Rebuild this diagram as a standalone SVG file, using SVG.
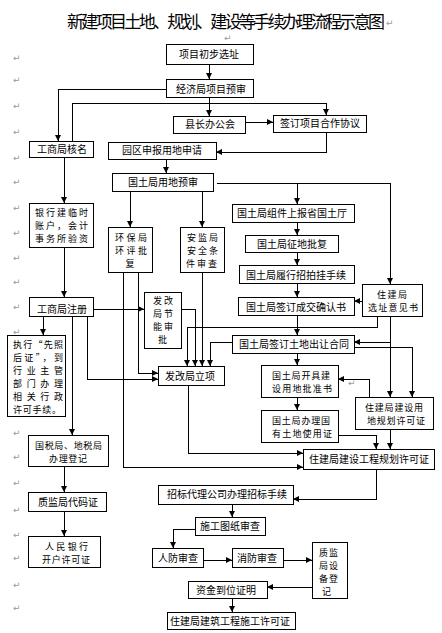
<svg xmlns="http://www.w3.org/2000/svg" width="442" height="633" viewBox="0 0 442 633">
<style>
.box{fill:#fff;stroke:#000;stroke-width:1;shape-rendering:crispEdges}
.c{fill:none;stroke:#000;stroke-width:1;shape-rendering:crispEdges}
.t{font-family:"Noto Sans CJK SC","Noto Sans",sans-serif;font-size:10px;fill:#000;text-anchor:middle}
.m{font-family:"Noto Sans CJK SC","Noto Sans",sans-serif;font-size:9px;fill:#000}
.title{font-family:"Noto Sans CJK SC","Noto Sans",sans-serif;font-size:17px;fill:#000}
.pm{font-family:"DejaVu Sans",sans-serif;font-size:9px;fill:#9a9a9a}
</style>
<defs>
<marker id="ah" markerUnits="userSpaceOnUse" markerWidth="7" markerHeight="6" refX="6" refY="3" orient="auto">
<path d="M0,0 L6,3 L0,6 z" fill="#000"/>
</marker>
</defs>
<rect width="442" height="633" fill="#fff"/>
<g id="title">
<text class="title" x="67" y="28" textLength="318" lengthAdjust="spacing">新建项目土地、规划、建设等手续办理流程示意图</text>
</g>
<g id="marks">
<text class="pm" x="386" y="26">↵</text>
<text class="pm" x="224" y="41">↵</text>
<text class="pm" x="348" y="386">↵</text>
<text class="pm" x="13" y="61">↵</text>
<text class="pm" x="13" y="83">↵</text>
<text class="pm" x="13" y="109">↵</text>
<text class="pm" x="13" y="135">↵</text>
<text class="pm" x="13" y="161">↵</text>
<text class="pm" x="13" y="185">↵</text>
<text class="pm" x="13" y="211">↵</text>
<text class="pm" x="13" y="236">↵</text>
<text class="pm" x="13" y="261">↵</text>
<text class="pm" x="13" y="285">↵</text>
<text class="pm" x="13" y="310">↵</text>
<text class="pm" x="13" y="334.5">↵</text>
<text class="pm" x="13" y="436">↵</text>
<text class="pm" x="13" y="460">↵</text>
<text class="pm" x="13" y="486">↵</text>
<text class="pm" x="13" y="513">↵</text>
<text class="pm" x="13" y="538">↵</text>
<text class="pm" x="13" y="561">↵</text>
<text class="pm" x="13" y="588">↵</text>
<text class="pm" x="13" y="611">↵</text>
</g>
<g id="connectors">
<path class="c" d="M209,64 V79" marker-end="url(#ah)"/>
<path class="c" d="M166,89 H58 V141" marker-end="url(#ah)"/>
<path class="c" d="M209,97 V116" marker-end="url(#ah)"/>
<path class="c" d="M72,141 V103 H326 V115" marker-end="url(#ah)"/>
<path class="c" d="M245,122 H273" marker-end="url(#ah)"/>
<path class="c" d="M326,132 V152 H216" marker-end="url(#ah)"/>
<path class="c" d="M166,159 V173" marker-end="url(#ah)"/>
<path class="c" d="M217,183 H390 V284" marker-end="url(#ah)"/>
<path class="c" d="M297,183 V204" marker-end="url(#ah)"/>
<path class="c" d="M130,191 V227" marker-end="url(#ah)"/>
<path class="c" d="M202,191 V227" marker-end="url(#ah)"/>
<path class="c" d="M64,157 V203" marker-end="url(#ah)"/>
<path class="c" d="M64,247 V297" marker-end="url(#ah)"/>
<path class="c" d="M297,222 V235" marker-end="url(#ah)"/>
<path class="c" d="M297,252 V265" marker-end="url(#ah)"/>
<path class="c" d="M297,283 V297" marker-end="url(#ah)"/>
<path class="c" d="M297,315 V335" marker-end="url(#ah)"/>
<path class="c" d="M362,301 H354" marker-end="url(#ah)"/>
<path class="c" d="M377,316 V327 H187 V366" marker-end="url(#ah)"/>
<path class="c" d="M390,316 V397" marker-end="url(#ah)"/>
<path class="c" d="M390,342 H354" marker-end="url(#ah)"/>
<path class="c" d="M354,347 H412 V397" marker-end="url(#ah)"/>
<path class="c" d="M232,342 H210 V366" marker-end="url(#ah)"/>
<path class="c" d="M297,353 V365" marker-end="url(#ah)"/>
<path class="c" d="M369,397 V379 H338" marker-end="url(#ah)"/>
<path class="c" d="M297,397 V410" marker-end="url(#ah)"/>
<path class="c" d="M338,435 H376 V449" marker-end="url(#ah)"/>
<path class="c" d="M390,429 V449" marker-end="url(#ah)"/>
<path class="c" d="M93,309 H144" marker-end="url(#ah)"/>
<path class="c" d="M181,309 H195 V366" marker-end="url(#ah)"/>
<path class="c" d="M202,272 V366" marker-end="url(#ah)"/>
<path class="c" d="M138,272 V373 H158" marker-end="url(#ah)"/>
<path class="c" d="M123,272 V467 H303" marker-end="url(#ah)"/>
<path class="c" d="M87,316 V379 H158" marker-end="url(#ah)"/>
<path class="c" d="M43,316 V335" marker-end="url(#ah)"/>
<path class="c" d="M72,316 V435" marker-end="url(#ah)"/>
<path class="c" d="M188,385 V453 H303" marker-end="url(#ah)"/>
<path class="c" d="M64,466 V492" marker-end="url(#ah)"/>
<path class="c" d="M64,511 V536" marker-end="url(#ah)"/>
<path class="c" d="M376,469 V499 H293" marker-end="url(#ah)"/>
<path class="c" d="M232,504 V517" marker-end="url(#ah)"/>
<path class="c" d="M195,529 H173 V548" marker-end="url(#ah)"/>
<path class="c" d="M203,560 H232" marker-end="url(#ah)"/>
<path class="c" d="M283,560 H312" marker-end="url(#ah)"/>
<path class="c" d="M312,587 H267" marker-end="url(#ah)"/>
<path class="c" d="M232,598 V612" marker-end="url(#ah)"/>
</g>
<g id="n_xuanzhi"><rect class="box" x="166" y="44" width="87" height="20"/><text class="t" x="209" y="57.5">项目初步选址</text></g>
<g id="n_jingji"><rect class="box" x="166" y="79" width="87" height="18"/><text class="t" x="211" y="92.5">经济局项目预审</text></g>
<g id="n_xianzhang"><rect class="box" x="173" y="116" width="72" height="17"/><text class="t" x="210" y="127.5">县长办公会</text></g>
<g id="n_xieyi"><rect class="box" x="273" y="115" width="93" height="17"/><text class="t" x="320" y="126.5">签订项目合作协议</text></g>
<g id="n_heming"><rect class="box" x="29" y="141" width="64" height="16"/><text class="t" x="62" y="153">工商局核名</text></g>
<g id="n_yuanqu"><rect class="box" x="108" y="142" width="108" height="17"/><text class="t" x="162" y="154">园区申报用地申请</text></g>
<g id="n_yushen"><rect class="box" x="112" y="173" width="101" height="18"/><text class="t" x="163" y="186">国土局用地预审</text></g>
<g id="n_zujian"><rect class="box" x="232" y="204" width="122" height="18"/><text class="t" x="292" y="217">国土局组件上报省国土厅</text></g>
<g id="n_bank"><rect class="box" x="29" y="203" width="64" height="44"/>
<text class="m" x="35" y="215.5" textLength="53" lengthAdjust="spacing">银行建临时</text>
<text class="m" x="35" y="228.5" textLength="53" lengthAdjust="spacing">账户，会计</text>
<text class="m" x="35" y="241.5" textLength="53" lengthAdjust="spacing">事务所验资</text></g>
<g id="n_huanbao"><rect class="box" x="108" y="227" width="44" height="45"/>
<text class="m" x="115" y="240.5" textLength="32" lengthAdjust="spacing">环保局</text>
<text class="m" x="115" y="253.5" textLength="32" lengthAdjust="spacing">环评批</text>
<text class="m" x="125.5" y="266.5">复</text></g>
<g id="n_anjian"><rect class="box" x="180" y="227" width="44" height="45"/>
<text class="m" x="187" y="240.5" textLength="31" lengthAdjust="spacing">安监局</text>
<text class="m" x="187" y="253.5" textLength="31" lengthAdjust="spacing">安全条</text>
<text class="m" x="186" y="266.5" textLength="31" lengthAdjust="spacing">件审查</text></g>
<g id="n_zhengdi"><rect class="box" x="245" y="235" width="93" height="17"/><text class="t" x="292" y="247.5">国土局征地批复</text></g>
<g id="n_zhaopai"><rect class="box" x="239" y="265" width="115" height="18"/><text class="t" x="296" y="278.5">国土局履行招拍挂手续</text></g>
<g id="n_xuanzhiyj"><rect class="box" x="362" y="284" width="60" height="32"/>
<text class="m" x="377" y="297.5" textLength="30" lengthAdjust="spacing">住建局</text>
<text class="m" x="368" y="310.5" textLength="50" lengthAdjust="spacing">选址意见书</text></g>
<g id="n_chengjiao"><rect class="box" x="238" y="297" width="116" height="18"/><text class="t" x="296" y="310.5">国土局签订成交确认书</text></g>
<g id="n_zhuce"><rect class="box" x="29" y="297" width="64" height="19"/><text class="t" x="62" y="312.5">工商局注册</text></g>
<g id="n_jieneng"><rect class="box" x="144" y="292" width="37" height="56"/>
<text class="m" x="153" y="304" textLength="20" lengthAdjust="spacing">发改</text>
<text class="m" x="153" y="317" textLength="20" lengthAdjust="spacing">局节</text>
<text class="m" x="153" y="330" textLength="20" lengthAdjust="spacing">能审</text>
<text class="m" x="158" y="343">批</text></g>
<g id="n_crang"><rect class="box" x="232" y="335" width="122" height="18"/><text class="t" x="294" y="347.5">国土局签订土地出让合同</text></g>
<g id="n_xianzhao"><rect class="box" x="7" y="335" width="58" height="81"/>
<text class="m" x="13" y="348" textLength="50" lengthAdjust="spacing">执行“先照</text>
<text class="m" x="13" y="361" textLength="50" lengthAdjust="spacing">后证”，到</text>
<text class="m" x="13" y="374" textLength="50" lengthAdjust="spacing">行业主管</text>
<text class="m" x="13" y="387" textLength="50" lengthAdjust="spacing">部门办理</text>
<text class="m" x="13" y="400" textLength="50" lengthAdjust="spacing">相关行政</text>
<text class="m" x="13" y="413" textLength="48" lengthAdjust="spacing">许可手续。</text></g>
<g id="n_lixiang"><rect class="box" x="158" y="366" width="66" height="19"/><text class="t" x="190" y="379.5">发改局立项</text></g>
<g id="n_pizhun"><rect class="box" x="261" y="365" width="77" height="32"/>
<text class="m" x="272" y="378.5" textLength="58" lengthAdjust="spacing">国土局开具建</text>
<text class="m" x="272" y="391.5" textLength="60" lengthAdjust="spacing">设用地批准书</text></g>
<g id="n_ydgh"><rect class="box" x="355" y="397" width="78" height="32"/>
<text class="m" x="365" y="410.5" textLength="58" lengthAdjust="spacing">住建局建设用</text>
<text class="m" x="367" y="423.5" textLength="58" lengthAdjust="spacing">地规划许可证</text></g>
<g id="n_tudizheng"><rect class="box" x="261" y="410" width="77" height="32"/>
<text class="m" x="272" y="423.5" textLength="58" lengthAdjust="spacing">国土局办理国</text>
<text class="m" x="272" y="436.5" textLength="60" lengthAdjust="spacing">有土地使用证</text></g>
<g id="n_guoshui"><rect class="box" x="28" y="435" width="80" height="31"/>
<text class="m" x="35" y="449" textLength="67" lengthAdjust="spacing">国税局、地税局</text>
<text class="m" x="49" y="462" textLength="38" lengthAdjust="spacing">办理登记</text></g>
<g id="n_gcgh"><rect class="box" x="303" y="449" width="131" height="20"/><text class="t" x="369" y="462.5">住建局建设工程规划许可证</text></g>
<g id="n_zhaobiao"><rect class="box" x="158" y="485" width="135" height="19"/><text class="t" x="227" y="498">招标代理公司办理招标手续</text></g>
<g id="n_daima"><rect class="box" x="28" y="492" width="78" height="19"/><text class="t" x="68" y="505.5">质监局代码证</text></g>
<g id="n_tuzhi"><rect class="box" x="195" y="517" width="70" height="18"/><text class="t" x="230" y="530">施工图纸审查</text></g>
<g id="n_renminyh"><rect class="box" x="28" y="536" width="72" height="31"/>
<text class="m" x="45" y="549.5" textLength="43" lengthAdjust="spacing">人民银行</text>
<text class="m" x="42" y="562.5" textLength="48" lengthAdjust="spacing">开户许可证</text></g>
<g id="n_renfang"><rect class="box" x="152" y="548" width="51" height="19"/><text class="t" x="178" y="561.5">人防审查</text></g>
<g id="n_xiaofang"><rect class="box" x="232" y="548" width="51" height="19"/><text class="t" x="257" y="561.5">消防审查</text></g>
<g id="n_shebei"><rect class="box" x="312" y="542" width="35" height="56"/>
<text class="m" x="319" y="555.5" textLength="19" lengthAdjust="spacing">质监</text>
<text class="m" x="319" y="568.5" textLength="19" lengthAdjust="spacing">局设</text>
<text class="m" x="319" y="581.5" textLength="19" lengthAdjust="spacing">备登</text>
<text class="m" x="322" y="594.5">记</text></g>
<g id="n_zijin"><rect class="box" x="188" y="581" width="79" height="17"/><text class="t" x="226" y="593.5">资金到位证明</text></g>
<g id="n_shigong"><rect class="box" x="167" y="612" width="128" height="17"/><text class="t" x="230" y="624.5">住建局建筑工程施工许可证</text></g>
</svg>
